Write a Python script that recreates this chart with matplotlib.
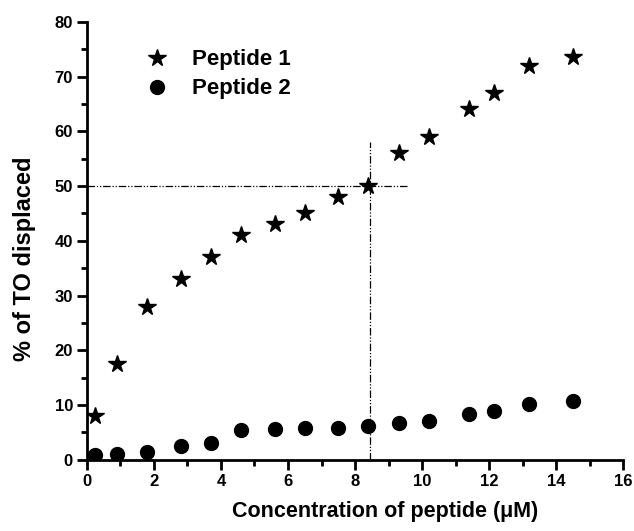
import matplotlib
matplotlib.use('Agg')
import matplotlib.pyplot as plt
from matplotlib.ticker import MultipleLocator

# Data
conc = [0.25, 0.9, 1.8, 2.8, 3.7, 4.6, 5.6, 6.5, 7.5, 8.4, 9.3, 10.2, 11.4, 12.15, 13.2, 14.5]
peptide1 = [8, 17.5, 28, 33, 37, 41, 43, 45, 48, 50, 56, 59, 64, 67, 72, 73.5]
peptide2 = [0.9, 1.0, 1.4, 2.6, 3.1, 5.4, 5.6, 5.8, 5.8, 6.2, 6.8, 7.1, 8.4, 8.9, 10.2, 10.8]

half_x = 8.45
half_y = 50

plt.rcParams['font.family'] = ['Liberation Sans', 'DejaVu Sans']
plt.rcParams['font.weight'] = 'bold'

fig = plt.figure(figsize=(6.34, 5.31), dpi=100)
ax = fig.add_axes([0.137, 0.134, 0.846, 0.825])

ax.plot(conc, peptide1, linestyle='none', marker='*', markersize=13, color='black', label='Peptide 1')
ax.plot(conc, peptide2, linestyle='none', marker='o', markersize=10, color='black', label='Peptide 2')

# IC50 guide lines
dashdotdot = (0, (6, 1.5, 1, 1.5, 1, 1.5))
ax.plot([0, 9.55], [half_y, half_y], color='black', lw=0.9, linestyle=dashdotdot)
ax.plot([half_x, half_x], [0, 58], color='black', lw=0.9, linestyle=dashdotdot)

ax.set_xlim(0, 16)
ax.set_ylim(0, 80)
ax.xaxis.set_major_locator(MultipleLocator(2))
ax.xaxis.set_minor_locator(MultipleLocator(1))
ax.yaxis.set_major_locator(MultipleLocator(10))
ax.yaxis.set_minor_locator(MultipleLocator(5))

for side in ['top', 'right']:
    ax.spines[side].set_visible(False)
for side in ['left', 'bottom']:
    ax.spines[side].set_linewidth(2)

ax.tick_params(which='major', direction='out', length=7, width=2, labelsize=12, pad=3)
ax.tick_params(which='minor', direction='out', length=4, width=2)
for lab in ax.get_xticklabels() + ax.get_yticklabels():
    lab.set_fontweight('bold')

ax.set_xlabel('Concentration of peptide (μM)', fontsize=15.5, fontweight='bold')
ax.xaxis.set_label_coords(0.556, -0.095)
ax.set_ylabel('% of TO displaced', fontsize=17, fontweight='bold')
ax.yaxis.set_label_coords(-0.095, 0.46)

ax.legend(loc='upper left', bbox_to_anchor=(0.222, 0.907), bbox_transform=fig.transFigure,
          frameon=False, borderaxespad=0, borderpad=0, handlelength=1.5,
          handletextpad=0.8, labelspacing=0.36, prop={'weight': 'bold', 'size': 16})

fig.savefig('out.png', dpi=100)
